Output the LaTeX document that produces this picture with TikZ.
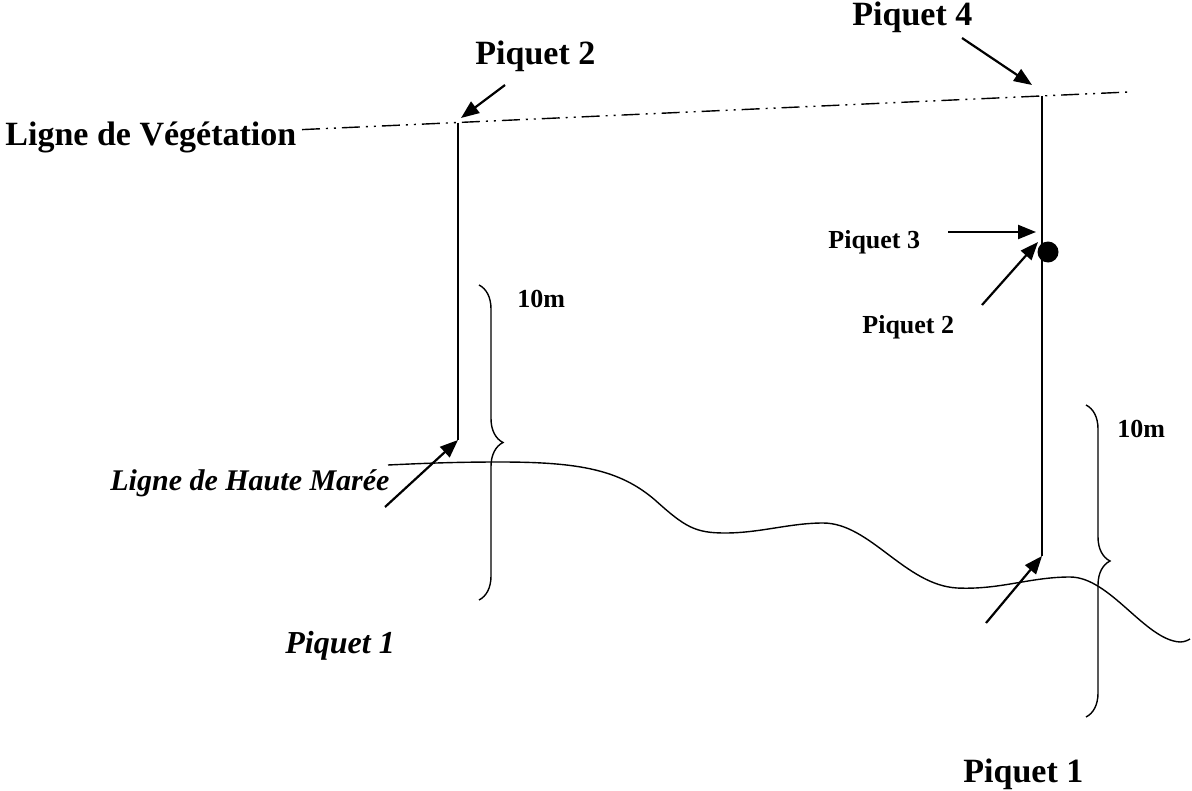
\documentclass[tikz,border=0pt]{standalone}
\usepackage{fontspec}
\setmainfont{Liberation Serif}
\usetikzlibrary{arrows.meta, decorations.pathreplacing}

\begin{document}
\begin{tikzpicture}[
  x=0.5pt, y=-0.5pt,
  big/.style={font=\fontsize{17}{20}\selectfont\bfseries, inner sep=0pt, anchor=base west},
  small/.style={font=\fontsize{13}{16}\selectfont\bfseries, inner sep=0pt, anchor=base west},
  slanted/.style={font=\fontsize{15}{18}\selectfont\bfseries\itshape, inner sep=0pt, anchor=base west},
  arrow/.style={-{Triangle[length=9pt, width=7pt]}, line width=1.1pt},
  pole/.style={line width=0.7pt},
  curly/.style={decorate, decoration={brace, amplitude=12pt}, line width=0.7pt},
  vegline/.style={line width=0.7pt, dash pattern=on 9pt off 3pt on 1pt off 3pt on 1pt off 3pt},
]
\useasboundingbox (0,0) rectangle (1192,791);

% Labels
\node[big] (veg) at (5,146) {Ligne de Végétation};
\node[big] (p2top) at (475,65) {Piquet 2};
\node[big] (p4) at (852,26) {Piquet 4};
\node[small] (p3) at (828,249) {Piquet 3};
\node[small] (p2mid) at (862,333) {Piquet 2};
\node[small] (dixa) at (517,307) {10m};
\node[small] (dixb) at (1117,437) {10m};
\node[slanted] (maree) at (110,490) {Ligne de Haute Marée};
\node[font=\fontsize{16}{19}\selectfont\bfseries\itshape, inner sep=0pt, anchor=base west] (p1left) at (285,653) {Piquet 1};
\node[big] (p1right) at (963,782) {Piquet 1};

% Poles
\coordinate (vegA) at (302,129.6);
\coordinate (vegB) at (1133,91.8);
\coordinate (topL) at (458,122.6);
\coordinate (botL) at (458,440);
\coordinate (topR) at (1042,96);
\coordinate (botR) at (1042,556);
\draw[vegline] (vegA) -- (vegB);
\draw[pole] (topL) -- (botL);
\draw[pole] (topR) -- (botR);
\node[circle, fill, minimum size=10.5pt, inner sep=0pt] (dot) at (1048,252) {};

% High tide line
\draw[line width=0.7pt] (388,465) .. controls (430,463) and (460,462) .. (500,462)
  .. controls (580,462) and (620,470) .. (655,500)
  .. controls (685,527) and (695,533) .. (725,533)
  .. controls (760,533) and (790,523) .. (823,523)
  .. controls (870,523) and (905,585) .. (957,588)
  .. controls (1000,590) and (1030,577) .. (1070,577)
  .. controls (1110,577) and (1145,640) .. (1180,642)
  .. controls (1185,642) and (1188,640) .. (1190,639);

% Braces
\coordinate (braceLa) at (479,285);
\coordinate (braceLb) at (479,600);
\coordinate (braceRa) at (1086,405);
\coordinate (braceRb) at (1086,717);
\draw[curly] (braceLa) -- (braceLb);
\draw[curly] (braceRa) -- (braceRb);

% Arrows
\coordinate (a2) at (505,85);
\coordinate (a4) at (962,38);
\coordinate (a3) at (948,232);
\coordinate (a2m) at (982,305);
\coordinate (a1L) at (385,507);
\coordinate (a1R) at (986,623);
\draw[arrow] (a2) -- (461,118);
\draw[arrow] (a4) -- (1032,85);
\draw[arrow] (a3) -- (1036,232);
\draw[arrow] (a2m) -- (1038,242);
\draw[arrow] (a1L) -- (botL);
\draw[arrow] (a1R) -- (botR);

\end{tikzpicture}
\end{document}
